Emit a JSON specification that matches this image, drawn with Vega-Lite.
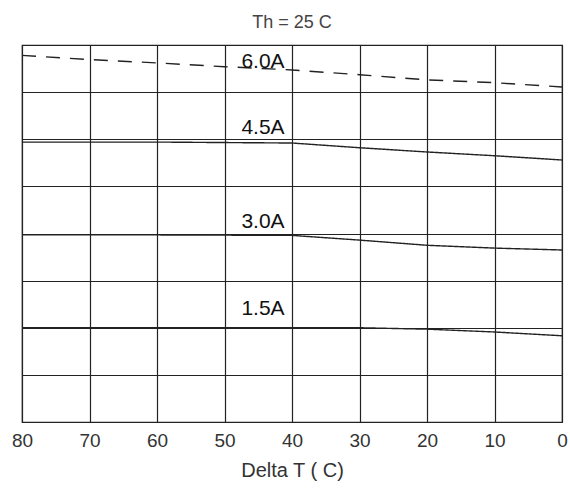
{
  "$schema": "https://vega.github.io/schema/vega-lite/v6.json",
  "autosize": "none",
  "width": 540,
  "height": 377,
  "padding": {"left": 22, "top": 45, "right": 8, "bottom": 78},
  "background": "white",
  "title": {"text": "Th = 25 C", "font": "Liberation Sans", "fontSize": 18, "fontWeight": "normal", "color": "#444", "offset": 13, "anchor": "middle"},
  "config": {"view": {"stroke": "#222", "strokeWidth": 1.2}, "font": "Liberation Sans"},
  "datasets": {
    "curves": [
      {"current": "6.0A", "dt": 80, "q": 7.78},
      {"current": "6.0A", "dt": 70, "q": 7.69},
      {"current": "6.0A", "dt": 60, "q": 7.62},
      {"current": "6.0A", "dt": 50, "q": 7.54},
      {"current": "6.0A", "dt": 40, "q": 7.47},
      {"current": "6.0A", "dt": 30, "q": 7.37},
      {"current": "6.0A", "dt": 20, "q": 7.26},
      {"current": "6.0A", "dt": 10, "q": 7.2},
      {"current": "6.0A", "dt": 0, "q": 7.11},
      {"current": "4.5A", "dt": 80, "q": 5.94},
      {"current": "4.5A", "dt": 60, "q": 5.94},
      {"current": "4.5A", "dt": 40, "q": 5.92},
      {"current": "4.5A", "dt": 30, "q": 5.82},
      {"current": "4.5A", "dt": 20, "q": 5.73},
      {"current": "4.5A", "dt": 10, "q": 5.65},
      {"current": "4.5A", "dt": 0, "q": 5.56},
      {"current": "3.0A", "dt": 80, "q": 3.97},
      {"current": "3.0A", "dt": 60, "q": 3.97},
      {"current": "3.0A", "dt": 40, "q": 3.96},
      {"current": "3.0A", "dt": 30, "q": 3.86},
      {"current": "3.0A", "dt": 20, "q": 3.75},
      {"current": "3.0A", "dt": 10, "q": 3.69},
      {"current": "3.0A", "dt": 0, "q": 3.65},
      {"current": "1.5A", "dt": 80, "q": 2.0},
      {"current": "1.5A", "dt": 60, "q": 2.0},
      {"current": "1.5A", "dt": 40, "q": 2.0},
      {"current": "1.5A", "dt": 30, "q": 2.0},
      {"current": "1.5A", "dt": 20, "q": 1.97},
      {"current": "1.5A", "dt": 10, "q": 1.91},
      {"current": "1.5A", "dt": 0, "q": 1.83}
    ],
    "labels": [
      {"label": "6.0A", "dt": 44.3, "q": 7.64},
      {"label": "4.5A", "dt": 44.3, "q": 6.24},
      {"label": "3.0A", "dt": 44.3, "q": 4.24},
      {"label": "1.5A", "dt": 44.3, "q": 2.4}
    ]
  },
  "layer": [
    {
      "data": {"name": "curves"},
      "mark": {"type": "line", "color": "#222", "strokeWidth": 1.4},
      "encoding": {
        "x": {"field": "dt", "type": "quantitative", "scale": {"domain": [0, 80], "reverse": true, "nice": false},
          "axis": {"title": "Delta  T ( C)", "titleFont": "Liberation Sans", "titleFontSize": 20, "titleFontWeight": "normal", "titleColor": "#333", "titlePadding": 10,
            "values": [0, 10, 20, 30, 40, 50, 60, 70, 80], "labelFontSize": 19, "labelColor": "#333", "labelPadding": 9, "labelFlush": false,
            "ticks": false, "domain": false, "grid": true, "gridColor": "#222", "gridWidth": 1.2, "gridOpacity": 1}},
        "y": {"field": "q", "type": "quantitative", "scale": {"domain": [0, 8], "nice": false},
          "axis": {"title": null, "labels": false, "ticks": false, "domain": false, "values": [0, 1, 2, 3, 4, 5, 6, 7, 8], "grid": true, "gridColor": "#222", "gridWidth": 1.2, "gridOpacity": 1}},
        "detail": {"field": "current", "type": "nominal"},
        "strokeDash": {"field": "current", "type": "nominal", "scale": {"domain": ["6.0A", "4.5A", "3.0A", "1.5A"], "range": [[14, 10], [1, 0], [1, 0], [1, 0]]}, "legend": null}
      }
    },
    {
      "data": {"name": "labels"},
      "mark": {"type": "text", "font": "Liberation Sans", "fontSize": 21, "color": "#111", "align": "center", "baseline": "middle"},
      "encoding": {
        "x": {"field": "dt", "type": "quantitative"},
        "y": {"field": "q", "type": "quantitative"},
        "text": {"field": "label", "type": "nominal"}
      }
    }
  ]
}
